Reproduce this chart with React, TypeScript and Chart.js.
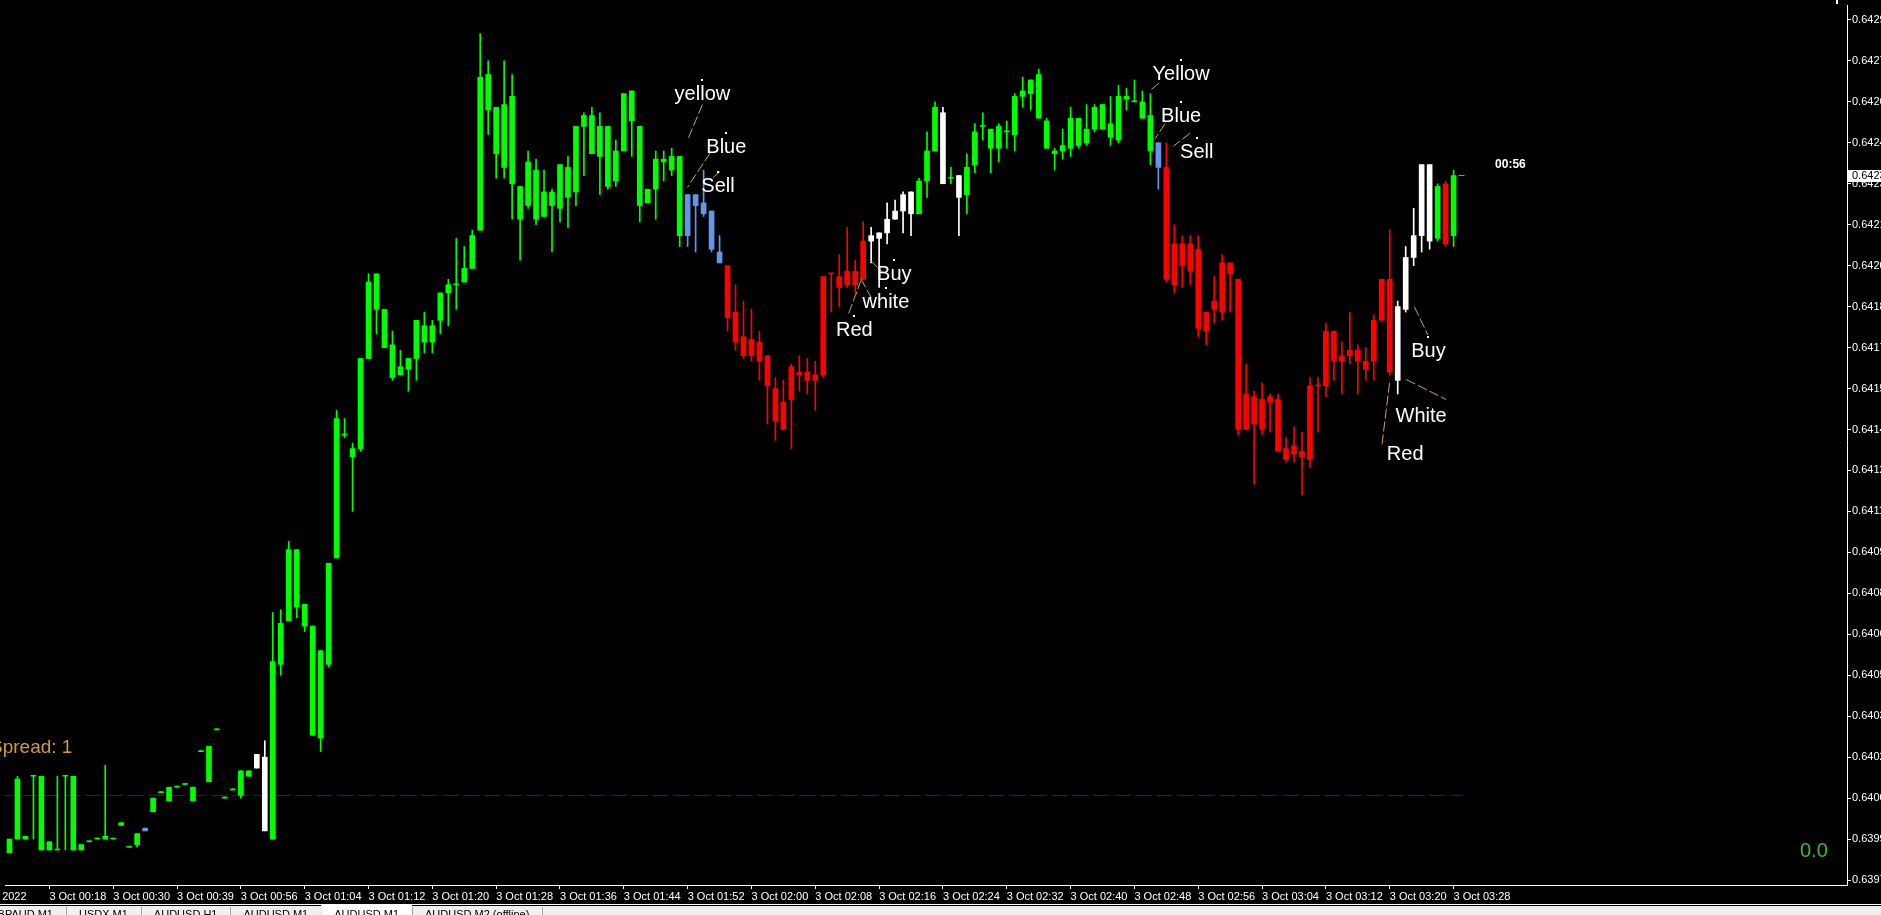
import { useEffect, useRef } from "react";
import { Chart, registerables } from "chart.js";

Chart.register(...registerables);

// ---------- DATA (AUDUSD, M1) ----------
const opens = [
  0.63985, 0.63990, 0.63990, 0.64013, 0.64013, 0.63986, 0.63986, 0.64013, 0.64013, 0.63986,
  0.63989, 0.63990, 0.63990, 0.63990, 0.63995, 0.63987, 0.63988, 0.63993, 0.64000, 0.64007,
  0.64004, 0.64009, 0.64010, 0.64009, 0.64022, 0.64011, 0.64030, 0.64005, 0.64008, 0.64006,
  0.64015, 0.64016, 0.64020, 0.63990, 0.64054, 0.64070, 0.64096, 0.64076, 0.64068, 0.64027,
  0.64054, 0.64093, 0.64138, 0.64133, 0.64133, 0.64166, 0.64197, 0.64184, 0.64171, 0.64160,
  0.64162, 0.64166, 0.64178, 0.64172, 0.64180, 0.64190, 0.64193, 0.64194, 0.64199, 0.64213,
  0.64270, 0.64258, 0.64236, 0.64262, 0.64229, 0.64222, 0.64235, 0.64218, 0.64227, 0.64221,
  0.64236, 0.64227, 0.64251, 0.64255, 0.64240, 0.64251, 0.64231, 0.64242, 0.64264, 0.64251,
  0.64223, 0.64228, 0.64239, 0.64240, 0.64240, 0.64211, 0.64226, 0.64223, 0.64220, 0.64205,
  0.64200, 0.64183, 0.64174, 0.64167, 0.64172, 0.64167, 0.64155, 0.64140, 0.64151, 0.64161,
  0.64161, 0.64158, 0.64160, 0.64197, 0.64196, 0.64193, 0.64198, 0.64195, 0.64209, 0.64210,
  0.64212, 0.64217, 0.64220, 0.64227, 0.64219, 0.64231, 0.64242, 0.64256, 0.64232, 0.64233,
  0.64226, 0.64237, 0.64251, 0.64250, 0.64243, 0.64249, 0.64248, 0.64262, 0.64263, 0.64270,
  0.64253, 0.64242, 0.64242, 0.64243, 0.64254, 0.64245, 0.64250, 0.64259, 0.64252, 0.64246,
  0.64262, 0.64260, 0.64260, 0.64255, 0.64245, 0.64236, 0.64193, 0.64208, 0.64198, 0.64206,
  0.64176, 0.64184, 0.64183, 0.64201, 0.64195, 0.64140, 0.64152, 0.64140, 0.64152, 0.64151,
  0.64133, 0.64131, 0.64132, 0.64129, 0.64156, 0.64156, 0.64176, 0.64165, 0.64167, 0.64169,
  0.64165, 0.64165, 0.64180, 0.64195, 0.64158, 0.64184, 0.64203, 0.64211, 0.64237, 0.64210,
  0.64230, 0.64211,
];

const highs = [
  0.63990, 0.64013, 0.63991, 0.64013, 0.64013, 0.63989, 0.64013, 0.64013, 0.64013, 0.63988,
  0.63989, 0.63990, 0.64017, 0.63990, 0.63996, 0.63987, 0.63992, 0.63994, 0.64005, 0.64007,
  0.64009, 0.64009, 0.64010, 0.64009, 0.64022, 0.64024, 0.64030, 0.64005, 0.64008, 0.64015,
  0.64015, 0.64021, 0.64026, 0.64073, 0.64074, 0.64099, 0.64096, 0.64076, 0.64068, 0.64059,
  0.64091, 0.64147, 0.64144, 0.64135, 0.64166, 0.64197, 0.64197, 0.64184, 0.64176, 0.64169,
  0.64166, 0.64180, 0.64183, 0.64180, 0.64190, 0.64195, 0.64210, 0.64207, 0.64213, 0.64285,
  0.64275, 0.64258, 0.64275, 0.64270, 0.64229, 0.64242, 0.64239, 0.64235, 0.64228, 0.64237,
  0.64240, 0.64251, 0.64256, 0.64258, 0.64256, 0.64251, 0.64246, 0.64263, 0.64264, 0.64251,
  0.64228, 0.64242, 0.64242, 0.64243, 0.64240, 0.64226, 0.64226, 0.64235, 0.64220, 0.64211,
  0.64200, 0.64193, 0.64187, 0.64184, 0.64176, 0.64167, 0.64159, 0.64158, 0.64164, 0.64167,
  0.64166, 0.64165, 0.64196, 0.64197, 0.64204, 0.64214, 0.64202, 0.64216, 0.64214, 0.64212,
  0.64223, 0.64224, 0.64227, 0.64227, 0.64232, 0.64249, 0.64260, 0.64258, 0.64236, 0.64233,
  0.64241, 0.64252, 0.64256, 0.64250, 0.64252, 0.64253, 0.64263, 0.64269, 0.64268, 0.64272,
  0.64254, 0.64243, 0.64250, 0.64258, 0.64254, 0.64259, 0.64259, 0.64259, 0.64262, 0.64266,
  0.64265, 0.64268, 0.64264, 0.64263, 0.64245, 0.64245, 0.64215, 0.64211, 0.64211, 0.64211,
  0.64183, 0.64196, 0.64204, 0.64201, 0.64195, 0.64164, 0.64154, 0.64157, 0.64153, 0.64153,
  0.64137, 0.64141, 0.64139, 0.64159, 0.64159, 0.64179, 0.64176, 0.64172, 0.64183, 0.64171,
  0.64170, 0.64182, 0.64195, 0.64213, 0.64187, 0.64207, 0.64221, 0.64237, 0.64237, 0.64230,
  0.64231, 0.64235,
];

const lows = [
  0.63985, 0.63990, 0.63990, 0.63990, 0.63986, 0.63986, 0.63986, 0.63986, 0.63986, 0.63986,
  0.63989, 0.63990, 0.63990, 0.63990, 0.63995, 0.63987, 0.63987, 0.63993, 0.64000, 0.64007,
  0.64004, 0.64009, 0.64010, 0.64004, 0.64022, 0.64011, 0.64030, 0.64005, 0.64008, 0.64005,
  0.64013, 0.64016, 0.63993, 0.63990, 0.64050, 0.64070, 0.64071, 0.64066, 0.64028, 0.64022,
  0.64053, 0.64093, 0.64137, 0.64110, 0.64132, 0.64166, 0.64175, 0.64170, 0.64158, 0.64160,
  0.64154, 0.64158, 0.64168, 0.64168, 0.64175, 0.64178, 0.64184, 0.64194, 0.64199, 0.64213,
  0.64248, 0.64232, 0.64232, 0.64217, 0.64202, 0.64221, 0.64215, 0.64218, 0.64205, 0.64216,
  0.64214, 0.64222, 0.64233, 0.64241, 0.64226, 0.64228, 0.64229, 0.64242, 0.64240, 0.64216,
  0.64223, 0.64217, 0.64231, 0.64233, 0.64207, 0.64207, 0.64205, 0.64218, 0.64205, 0.64201,
  0.64176, 0.64169, 0.64166, 0.64165, 0.64158, 0.64142, 0.64136, 0.64140, 0.64133, 0.64154,
  0.64153, 0.64147, 0.64159, 0.64183, 0.64185, 0.64192, 0.64190, 0.64195, 0.64201, 0.64192,
  0.64208, 0.64217, 0.64212, 0.64211, 0.64219, 0.64225, 0.64242, 0.64230, 0.64230, 0.64211,
  0.64219, 0.64234, 0.64246, 0.64234, 0.64238, 0.64243, 0.64242, 0.64258, 0.64257, 0.64254,
  0.64243, 0.64235, 0.64239, 0.64240, 0.64243, 0.64244, 0.64249, 0.64250, 0.64244, 0.64245,
  0.64257, 0.64260, 0.64254, 0.64237, 0.64228, 0.64194, 0.64190, 0.64192, 0.64193, 0.64174,
  0.64171, 0.64179, 0.64180, 0.64183, 0.64138, 0.64140, 0.64120, 0.64138, 0.64139, 0.64132,
  0.64128, 0.64128, 0.64116, 0.64126, 0.64139, 0.64152, 0.64158, 0.64153, 0.64164, 0.64153,
  0.64158, 0.64158, 0.64180, 0.64160, 0.64153, 0.64183, 0.64200, 0.64205, 0.64206, 0.64209,
  0.64207, 0.64207,
];

const closes = [
  0.63990, 0.64012, 0.63991, 0.64013, 0.63986, 0.63989, 0.63986, 0.64013, 0.63986, 0.63988,
  0.63989, 0.63990, 0.63991, 0.63990, 0.63996, 0.63987, 0.63992, 0.63994, 0.64005, 0.64007,
  0.64009, 0.64009, 0.64010, 0.64004, 0.64022, 0.64024, 0.64030, 0.64005, 0.64008, 0.64015,
  0.64013, 0.64021, 0.63993, 0.64055, 0.64069, 0.64096, 0.64075, 0.64068, 0.64028, 0.64059,
  0.64091, 0.64144, 0.64138, 0.64130, 0.64166, 0.64194, 0.64184, 0.64170, 0.64159, 0.64163,
  0.64166, 0.64180, 0.64172, 0.64178, 0.64190, 0.64193, 0.64193, 0.64199, 0.64211, 0.64269,
  0.64257, 0.64241, 0.64259, 0.64230, 0.64217, 0.64238, 0.64217, 0.64227, 0.64222, 0.64237,
  0.64225, 0.64251, 0.64255, 0.64241, 0.64251, 0.64229, 0.64242, 0.64263, 0.64253, 0.64222,
  0.64228, 0.64239, 0.64238, 0.64235, 0.64211, 0.64226, 0.64222, 0.64219, 0.64206, 0.64201,
  0.64181, 0.64172, 0.64167, 0.64173, 0.64165, 0.64156, 0.64143, 0.64150, 0.64163, 0.64160,
  0.64158, 0.64160, 0.64196, 0.64197, 0.64192, 0.64198, 0.64193, 0.64209, 0.64211, 0.64212,
  0.64217, 0.64220, 0.64226, 0.64219, 0.64231, 0.64242, 0.64258, 0.64230, 0.64232, 0.64225,
  0.64236, 0.64249, 0.64251, 0.64243, 0.64251, 0.64249, 0.64262, 0.64264, 0.64268, 0.64254,
  0.64243, 0.64241, 0.64244, 0.64254, 0.64244, 0.64250, 0.64258, 0.64250, 0.64247, 0.64262,
  0.64261, 0.64260, 0.64254, 0.64242, 0.64236, 0.64195, 0.64208, 0.64200, 0.64208, 0.64177,
  0.64183, 0.64187, 0.64201, 0.64197, 0.64140, 0.64153, 0.64142, 0.64151, 0.64150, 0.64132,
  0.64129, 0.64134, 0.64130, 0.64156, 0.64156, 0.64176, 0.64165, 0.64167, 0.64169, 0.64165,
  0.64162, 0.64180, 0.64195, 0.64161, 0.64185, 0.64203, 0.64211, 0.64237, 0.64209, 0.64229,
  0.64208, 0.64233,
];

// indicator colour of every bar: g = green, b = blue, r = red, w = white
const barColorCodes =
  "gggggggggggggggggb" +
  "gggggggggggggww" +
  "gggggggggggggggggggggggggggggggggggggggggggggggggggg" +
  "bbbbb" +
  "rrrrrrrrrrrrrrrrrr" +
  "wwwwwwgggwgw" +
  "ggggggggggggggggggggggggb" +
  "rrrrrrrrrrrrrrrrrrrrrrrrrrrrr" +
  "wwwwwgrg";

const timeTickBars = [-4.6, 5, 13, 21, 29, 37, 45, 53, 61, 69, 77, 85, 93, 101, 109, 117, 125, 133, 141, 149, 157, 165, 173, 181];
const timeTickLabels = [
  "3 Oct 2022", "3 Oct 00:18", "3 Oct 00:30", "3 Oct 00:39", "3 Oct 00:56", "3 Oct 01:04",
  "3 Oct 01:12", "3 Oct 01:20", "3 Oct 01:28", "3 Oct 01:36", "3 Oct 01:44", "3 Oct 01:52",
  "3 Oct 02:00", "3 Oct 02:08", "3 Oct 02:16", "3 Oct 02:24", "3 Oct 02:32", "3 Oct 02:40",
  "3 Oct 02:48", "3 Oct 02:56", "3 Oct 03:04", "3 Oct 03:12", "3 Oct 03:20", "3 Oct 03:28",
];

const priceTickValues = [
  0.64290, 0.64275, 0.64260, 0.64245, 0.64230, 0.64215, 0.64200, 0.64185, 0.64170, 0.64155, 0.64140,
  0.64125, 0.64110, 0.64095, 0.64080, 0.64065, 0.64050, 0.64035, 0.64020, 0.64005, 0.63990, 0.63975,
];
const priceTickLabels = [
  "0.6429", "0.6427", "0.6426", "0.6424", "0.6423", "0.6421", "0.6420", "0.6418", "0.6417", "0.6415", "0.6414",
  "0.6412", "0.6411", "0.6409", "0.6408", "0.6406", "0.6405", "0.6403", "0.6402", "0.6400", "0.6399", "0.6397",
];

const currentPrice = 0.64233;
const currentPriceLabel = "0.6423";
const bidMarker = { bar: 182, price: 0.64233 };
const levelLine = { price: 0.64006, fromBar: -1, toBar: 182.2 };

// text objects, anchored at (bar, price) like MT4 objects
const textObjects = [
  { text: "yellow", bar: 86.85, price: 0.642681, dot: true },
  { text: "Blue", bar: 89.85, price: 0.642487, dot: true },
  { text: "Sell", bar: 88.81, price: 0.642342, dot: true },
  { text: "Red", bar: 105.9, price: 0.641815, dot: true },
  { text: "white", bar: 109.85, price: 0.641919, dot: true },
  { text: "Buy", bar: 110.9, price: 0.642019, dot: true },
  { text: "Yellow", bar: 146.85, price: 0.642752, dot: true },
  { text: "Blue", bar: 146.85, price: 0.642599, dot: true },
  { text: "Sell", bar: 148.81, price: 0.642466, dot: true },
  { text: "Buy", bar: 177.85, price: 0.641740, dot: true },
  { text: "White", bar: 176.94, price: 0.641500, dot: false },
  { text: "Red", bar: 174.94, price: 0.641362, dot: false },
];

// thin connector trend lines [bar, price] -> [bar, price]
const connectorLines = [
  { from: [86.85, 0.642590], to: [85.06, 0.642465] },
  { from: [87.85, 0.642414], to: [84.98, 0.642287] },
  { from: [88.19, 0.642323], to: [89.03, 0.642344] },
  { from: [105.19, 0.641825], to: [106.73, 0.641946] },
  { from: [106.69, 0.641953], to: [108.06, 0.641880] },
  { from: [107.94, 0.642019], to: [109.44, 0.641975] },
  { from: [144.1, 0.642669], to: [143.1, 0.642645] },
  { from: [144.85, 0.642521], to: [143.6, 0.642465] },
  { from: [147.98, 0.642485], to: [145.9, 0.642438] },
  { from: [176.1, 0.641849], to: [177.78, 0.641746] },
  { from: [175.06, 0.641583], to: [180.06, 0.641510] },
  { from: [172.98, 0.641571], to: [172.03, 0.641346] },
];

const timerLabel = { text: "00:56", bar: 186.2, price: 0.642358 };
const spreadText = "Spread: 1";
const cornerValueText = "0.0";
const tabs = ["GBPAUD M1", "USDX M1", "AUDUSD H1", "AUDUSD M1", "AUDUSD M1", "AUDUSD M2 (offline)"];

// ---------- STYLE ----------
const COLORS: Record<string, string> = { g: "#00ff00", b: "#6495ed", r: "#ff0000", w: "#ffffff" };
const FONT = "'Liberation Sans', Arial, sans-serif";
const X_MIN = -0.5625;
const X_MAX = 230.3125;
const Y_MIN = 0.6397318;
const Y_MAX = 0.6429546;

export default function App() {
  const ref = useRef<HTMLCanvasElement>(null);

  useEffect(() => {
    document.body.style.margin = "0";
    document.body.style.background = "#000";
    const canvas = ref.current!;
    const colors = barColorCodes.split("").map((c) => COLORS[c]);

    const bodyData = closes.map((c, i) => ({ x: i, y: [opens[i], c] }));
    const wickData = highs.map((h, i) => ({ x: i, y: [lows[i], h] }));

    const background = {
      id: "bg",
      beforeDraw(chart: any) {
        const { ctx, width, height } = chart;
        ctx.save();
        ctx.fillStyle = "#000";
        ctx.fillRect(0, 0, width, height);
        ctx.restore();
      },
    };

    const overlay = {
      id: "overlay",
      afterDraw(chart: any) {
        const { ctx, chartArea, scales, width, height } = chart;
        const xs = scales.x;
        const ys = scales.y;
        ctx.save();

        // connector lines
        ctx.strokeStyle = "#d2a050";
        ctx.lineWidth = 1;
        ctx.setLineDash([10, 3]);
        for (const l of connectorLines) {
          ctx.beginPath();
          ctx.moveTo(xs.getPixelForValue(l.from[0]), ys.getPixelForValue(l.from[1]));
          ctx.lineTo(xs.getPixelForValue(l.to[0]), ys.getPixelForValue(l.to[1]));
          ctx.stroke();
        }
        ctx.setLineDash([]);

        // text objects
        ctx.font = `20px ${FONT}`;
        ctx.textAlign = "center";
        ctx.textBaseline = "alphabetic";
        ctx.fillStyle = "#ffffff";
        for (const t of textObjects) {
          const px = xs.getPixelForValue(t.bar);
          const py = ys.getPixelForValue(t.price);
          if (t.dot) ctx.fillRect(Math.round(px) - 1, Math.round(py) - 1, 2, 2);
          ctx.fillText(t.text, px, py + 20);
        }

        // bar timer
        ctx.font = `bold 12px ${FONT}`;
        ctx.textAlign = "left";
        ctx.fillText(timerLabel.text, xs.getPixelForValue(timerLabel.bar), ys.getPixelForValue(timerLabel.price));

        // small cut-off mark at the top right
        ctx.fillRect(chartArea.right - 11, 0, 2, 4);

        // spread + corner value
        ctx.font = `19px ${FONT}`;
        ctx.fillStyle = "#d49b3c";
        ctx.fillText(spreadText, chartArea.left - 15, chartArea.top + 748);
        ctx.font = `20px ${FONT}`;
        ctx.fillStyle = "#3cb93c";
        ctx.fillText(cornerValueText, chartArea.right - 47, chartArea.top + 852);

        // current price box on the price axis
        const cy = Math.round(ys.getPixelForValue(currentPrice));
        ctx.fillStyle = "#ffffff";
        ctx.fillRect(chartArea.right + 1, cy - 6, width - chartArea.right, 12);
        ctx.fillStyle = "#000000";
        ctx.font = `11px ${FONT}`;
        ctx.textBaseline = "middle";
        ctx.fillText(currentPriceLabel, chartArea.right + 5, cy);

        // bottom tab bar
        const tabTop = height - 9;
        ctx.fillStyle = "#ffffff";
        ctx.fillRect(0, tabTop - 2, width, 1);
        ctx.fillStyle = "#f0f0f0";
        ctx.fillRect(0, tabTop, width, 9);
        ctx.font = `11px ${FONT}`;
        ctx.textBaseline = "top";
        let tx = -24;
        tabs.forEach((name, i) => {
          const w = ctx.measureText(name).width + 26;
          if (i === 4) {
            ctx.fillStyle = "#ffffff";
            ctx.fillRect(tx, tabTop - 1, w, 10);
          }
          ctx.fillStyle = "#000";
          ctx.fillText(name, tx + 13, tabTop + 3);
          ctx.fillStyle = "#a0a0a0";
          ctx.fillRect(Math.round(tx + w), tabTop + 1, 1, 8);
          tx += w;
        });
        ctx.restore();
      },
    };

    const chart = new Chart(canvas, {
      type: "bar",
      data: {
        datasets: [
          {
            type: "line",
            data: [
              { x: levelLine.fromBar, y: levelLine.price },
              { x: levelLine.toBar, y: levelLine.price },
            ],
            borderColor: "#1c1ca8",
            borderWidth: 1,
            borderDash: [16, 5],
            pointRadius: 0,
            order: 4,
          } as any,
          {
            type: "bar",
            data: wickData as any,
            backgroundColor: colors,
            barThickness: 1,
            grouped: false,
            minBarLength: 1,
            borderWidth: 0,
            order: 3,
          } as any,
          {
            type: "bar",
            data: bodyData as any,
            backgroundColor: colors,
            barThickness: 5,
            grouped: false,
            minBarLength: 1,
            borderWidth: 0,
            order: 2,
          } as any,
          {
            type: "line",
            data: [{ x: bidMarker.bar, y: bidMarker.price }],
            showLine: false,
            pointStyle: "line",
            pointRadius: 3,
            borderColor: "#00ff00",
            borderWidth: 1,
            order: 1,
          } as any,
        ],
      },
      options: {
        responsive: false,
        animation: false,
        events: [],
        layout: { padding: 0 },
        plugins: { legend: { display: false }, tooltip: { enabled: false } },
        scales: {
          x: {
            type: "linear",
            offset: false,
            min: X_MIN,
            max: X_MAX,
            afterBuildTicks: (s: any) => {
              s.ticks = timeTickBars.map((v) => ({ value: v }));
            },
            afterFit: (s: any) => {
              s.height = 30;
              s.paddingLeft = 0;
              s.paddingRight = 0;
            },
            ticks: {
              color: "#ffffff",
              font: { family: FONT, size: 11 },
              align: "start",
              maxRotation: 0,
              minRotation: 0,
              autoSkip: false,
              padding: 1,
              callback: (v: any) => {
                const i = timeTickBars.indexOf(Number(v));
                return i >= 0 ? timeTickLabels[i] : "";
              },
            },
            grid: { offset: false, drawOnChartArea: false, drawTicks: true, tickLength: 4, color: "#ffffff" },
            border: { display: true, color: "#ffffff", width: 1 },
          },
          y: {
            type: "linear",
            position: "right",
            min: Y_MIN,
            max: Y_MAX,
            afterBuildTicks: (s: any) => {
              s.ticks = priceTickValues.map((v) => ({ value: v }));
            },
            afterFit: (s: any) => {
              s.width = 34;
              s.paddingTop = 0;
              s.paddingBottom = 0;
            },
            ticks: {
              color: "#ffffff",
              font: { family: FONT, size: 11 },
              padding: 1,
              callback: (v: any) => {
                const i = priceTickValues.findIndex((t) => Math.abs(t - Number(v)) < 1e-7);
                return i >= 0 ? priceTickLabels[i] : "";
              },
            },
            grid: { drawOnChartArea: false, drawTicks: true, tickLength: 4, color: "#ffffff" },
            border: { display: true, color: "#ffffff", width: 1 },
          },
        },
      } as any,
      plugins: [background, overlay],
    });

    return () => chart.destroy();
  }, []);

  return (
    <div style={{ width: 1881, height: 915, background: "#000" }}>
      <canvas ref={ref} width={1881} height={915} style={{ display: "block" }} />
    </div>
  );
}
